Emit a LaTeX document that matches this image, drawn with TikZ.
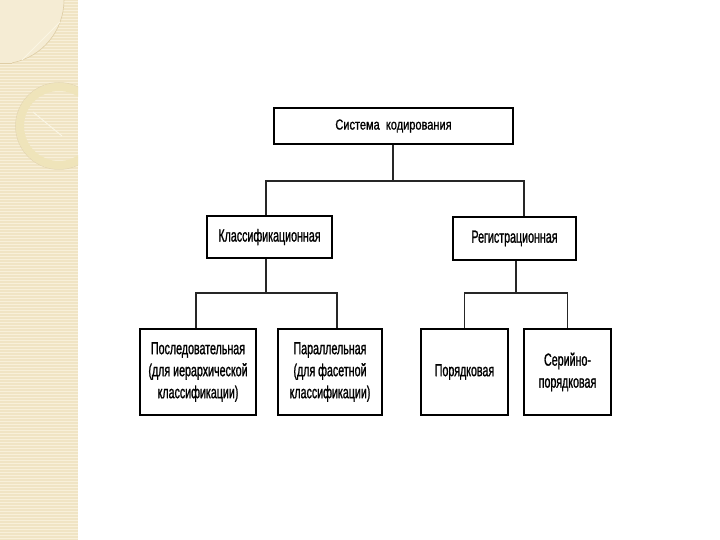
\documentclass[tikz,border=0pt]{standalone}
\usepackage{fontspec}
\setmainfont{Liberation Sans}[FakeStretch=0.61,FakeBold=1.1]
\newfontfamily\topfont{Liberation Sans}[FakeStretch=0.76,FakeBold=1.1]
\begin{document}
\begin{tikzpicture}[x=1pt,y=-1pt,
  box/.style={draw=black,line width=1.5pt,fill=white,inner sep=2pt,align=center,
    font=\fontsize{17.5}{22}\selectfont,text=black},
  link/.style={draw=black!85,line width=1.2pt}]
\useasboundingbox (0,0) rectangle (720,540);
\fill[white] (0,0) rectangle (720,540);
% decorative strip
\fill[color={rgb,255:red,240;green,228;blue,196}] (0,0) rectangle (78,540);
\foreach \yy in {1,4,...,540}{
  \draw[color={rgb,255:red,248;green,240;blue,218},line width=0.8pt] (0,\yy) -- (78,\yy);
}
\begin{scope}
  \clip (0,0) rectangle (78,540);
  \fill[color={rgb,255:red,245;green,236;blue,212}] (0,0) -- (64,0) arc[start angle=0,end angle=79,radius=64] -- (0,63) -- cycle;
  \draw[color={rgb,255:red,222;green,205;blue,165},line width=0.6pt] (0,63) -- (12,63);
  \draw[color={rgb,255:red,222;green,205;blue,165},line width=0.6pt] (64,0) arc[start angle=0,end angle=79,radius=64];
  \draw[color={rgb,255:red,250;green,245;blue,228},line width=1pt] (22,60) -- (60,22);
  \draw[color={rgb,255:red,239;green,228;blue,186},line width=8pt] (59,126) circle[radius=39];
  \draw[color={rgb,255:red,228;green,214;blue,175},line width=0.5pt] (59,126) circle[radius=43.5];
  \draw[color={rgb,255:red,250;green,245;blue,228},line width=1pt] (33,112) -- (62,136);
\end{scope}
% nodes
\node[box,minimum width=239pt,minimum height=36pt,font=\topfont\fontsize{14.5}{18}\selectfont] (top) at (393.5,126) {Система\ \ кодирования};
\node[box,minimum width=125pt,minimum height=42pt] (cls) at (269.5,237) {Классификационная};
\node[box,minimum width=123pt,minimum height=43pt] (reg) at (514.5,238.5) {Регистрационная};
\node[box,minimum width=116pt,minimum height=86pt] (b1) at (198,372) {Последовательная\\(для иерархической\\классификации)};
\node[box,minimum width=104pt,minimum height=86pt] (b2) at (330,372) {Параллельная\\(для фасетной\\классификации)};
\node[box,minimum width=87pt,minimum height=86pt] (b3) at (464.5,372) {Порядковая};
\node[box,minimum width=87pt,minimum height=86pt] (b4) at (567.5,372) {Серийно-\\порядковая};
% junction coordinates
\coordinate (j0) at (393,181);
\coordinate (bl) at (266,181);
\coordinate (br) at (524,181);
\coordinate (j1) at (266,293);
\coordinate (l1) at (196,293);
\coordinate (l2) at (337,293);
\coordinate (j2) at (516,293);
\coordinate (r1) at (464.5,293);
\coordinate (r2) at (567.5,293);
% connectors
\draw[link] (j0 |- top.south) -- (j0);
\draw[link] (bl |- cls.north) -- (bl) -- (br) -- (br |- reg.north);
\draw[link] (j1 |- cls.south) -- (j1);
\draw[link] (l1 |- b1.north) -- (l1) -- (l2) -- (l2 |- b2.north);
\draw[link] (j2 |- reg.south) -- (j2);
\draw[link] (r1 |- b3.north) -- (r1) -- (r2) -- (r2 |- b4.north);
\end{tikzpicture}
\end{document}
